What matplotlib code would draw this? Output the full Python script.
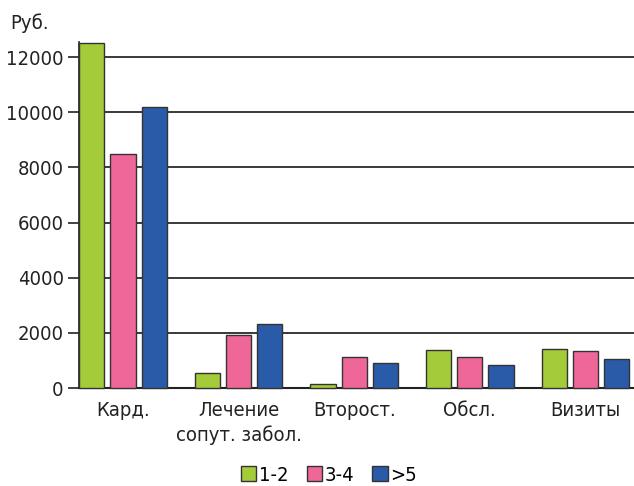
import numpy as np
import matplotlib.pyplot as plt
from matplotlib.patches import Patch

plt.rcParams['font.family'] = ['DejaVu Sans']
plt.rcParams['font.stretch'] = 'condensed'

categories = ['Кард.', 'Лечение\nсопут. забол.', 'Второст.', 'Обсл.', 'Визиты']
groups = ['1-2', '3-4', '>5']
vals_12 = [12500, 540, 140, 1390, 1410]
vals_34 = [8500, 1930, 1140, 1110, 1350]
vals_5 = [10200, 2310, 890, 840, 1040]
colors = ['#a4cb3a', '#ef6699', '#2a5ba8']

fig = plt.figure(figsize=(6.34, 4.86), dpi=100)
ax = fig.add_axes([0.1246, 0.2016, 0.8754, 0.7117])

x = np.arange(len(categories))
w = 0.218
step = 0.27
for i, (vals, c) in enumerate(zip([vals_12, vals_34, vals_5], colors)):
    ax.bar(x + (i - 1) * step, vals, width=w, color=c, edgecolor='#333333',
           linewidth=1.0, zorder=3, clip_on=False)

ax.set_xlim(-0.38, 4.42)
ax.set_ylim(0, 12540)
ax.set_yticks(range(0, 12001, 2000))
ax.yaxis.grid(True, color='#2a2a2a', linewidth=1.3, zorder=1)
ax.set_xticks(x)
ax.set_xticklabels(categories, fontsize=14.5, color='#222222', linespacing=1.4)
ax.tick_params(axis='x', length=0, pad=9)
ax.tick_params(axis='y', length=8, width=1.2, color='#222222', labelsize=14.5,
               labelcolor='#222222', pad=3)
for s in ['top', 'right']:
    ax.spines[s].set_visible(False)
ax.spines['left'].set_color('#222222')
ax.spines['bottom'].set_color('#222222')
ax.spines['bottom'].set_linewidth(1.5)
ax.spines['left'].set_linewidth(1.2)

fig.text(0.016, 0.952, 'Руб.', fontsize=14.5, color='#222222', va='center')

handles = [Patch(facecolor=c, edgecolor='#333333', label=g) for g, c in zip(groups, colors)]
fig.legend(handles=handles, loc='center', bbox_to_anchor=(0.519, 0.022), ncol=3,
           frameon=False, fontsize=14.5, handlelength=0.75, handleheight=0.75,
           handletextpad=0.15, columnspacing=0.9, borderpad=0)

fig.savefig('out.png', dpi=100)
